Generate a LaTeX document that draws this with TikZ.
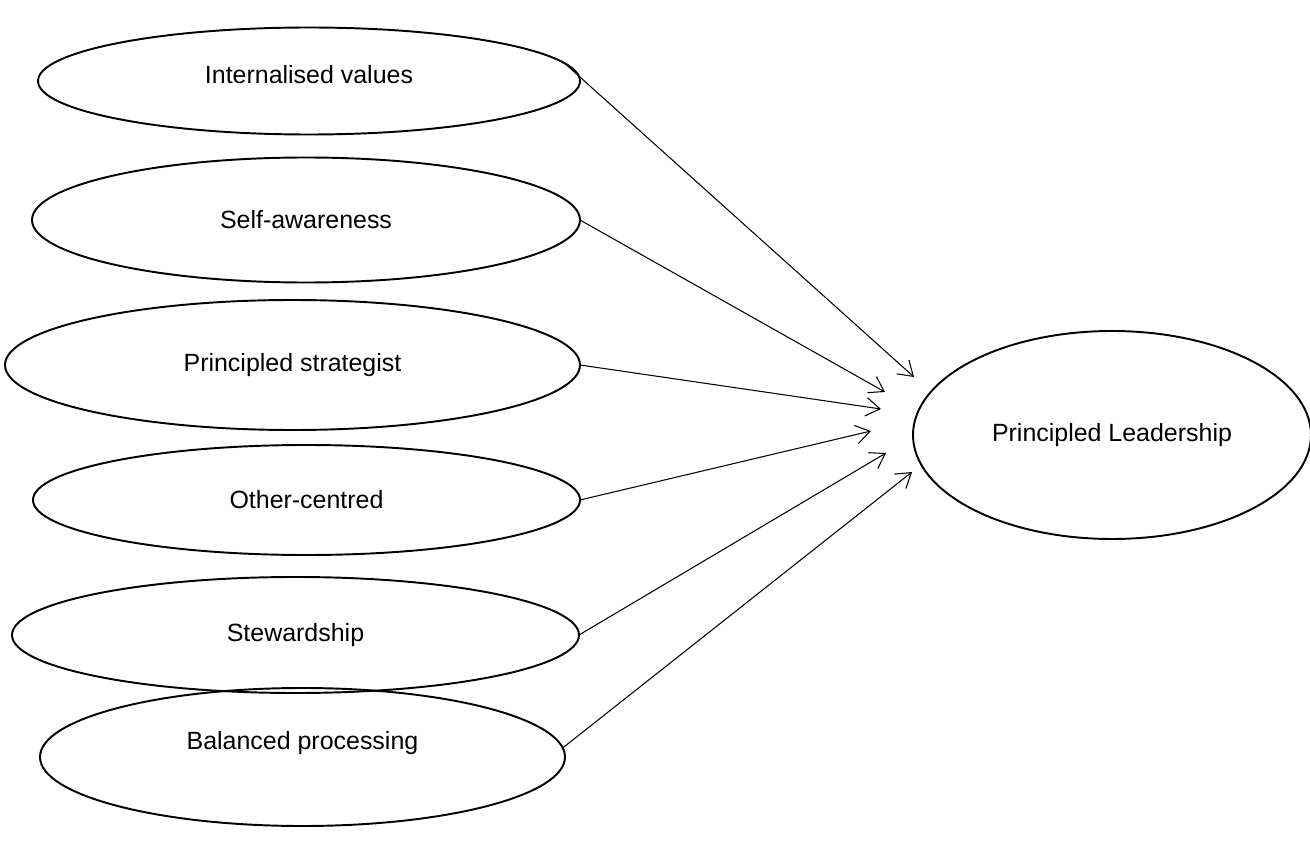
\documentclass[tikz,border=0pt]{standalone}
\usepackage{fontspec}
\setmainfont{Liberation Sans}
\usepackage{tikz}
\usetikzlibrary{shapes.geometric,arrows.meta,positioning}
\tikzset{
  factor/.style={ellipse, draw, line width=1.1pt, inner sep=0pt, outer sep=0pt,
    align=center, font=\fontsize{14.2}{17}\selectfont},
  outcome/.style={factor},
  % text sits a little above the middle of some ellipses
  lift/.style={text height=0.36cm, text depth=#1},
  edge/.style={-{Straight Barb[length=8pt,width=10.5pt]}, line width=0.6pt},
}

\begin{document}
\begin{tikzpicture}
\useasboundingbox (0,0) rectangle (26.2,-17.12);

% ── left column: the six components ─────────────────────────────────────────
\node[factor, lift=0.24cm, minimum width=10.84cm, minimum height=2.14cm] (iv)
  at (6.18,-1.62) {Internalised values};
\node[factor, minimum width=10.96cm, minimum height=2.50cm] (sa)
  at (6.12,-4.40) {Self-awareness};
\node[factor, minimum width=11.50cm, minimum height=2.60cm] (ps)
  at (5.85,-7.30) {Principled strategist};
\node[factor, minimum width=10.94cm, minimum height=2.20cm] (oc)
  at (6.13,-10.00) {Other-centred};
\node[factor, minimum width=11.34cm, minimum height=2.32cm] (sw)
  at (5.91,-12.70) {Stewardship};
\node[factor, lift=0.66cm, minimum width=10.50cm, minimum height=2.76cm] (bp)
  at (6.05,-15.14) {Balanced processing};

% ── right: the construct ────────────────────────────────────────────────────
\node[outcome, minimum width=7.96cm, minimum height=4.16cm] (pl)
  at (22.24,-8.70) {Principled Leadership};

% arrow tips stop short of the ellipse
\coordinate (t1) at (18.28,-7.54);
\coordinate (t2) at (17.70,-7.84);
\coordinate (t3) at (17.62,-8.18);
\coordinate (t4) at (17.42,-8.62);
\coordinate (t5) at (17.72,-9.06);
\coordinate (t6) at (18.24,-9.44);

% ── connectors ──────────────────────────────────────────────────────────────
\draw[edge] (iv.4) -- (t1);
\draw[edge] (sa.east) -- (t2);
\draw[edge] (ps.east) -- (t3);
\draw[edge] (oc.east) -- (t4);
\draw[edge] (sw.east) -- (t5);
\draw[edge] (bp.2) -- (t6);

\end{tikzpicture}
\end{document}
